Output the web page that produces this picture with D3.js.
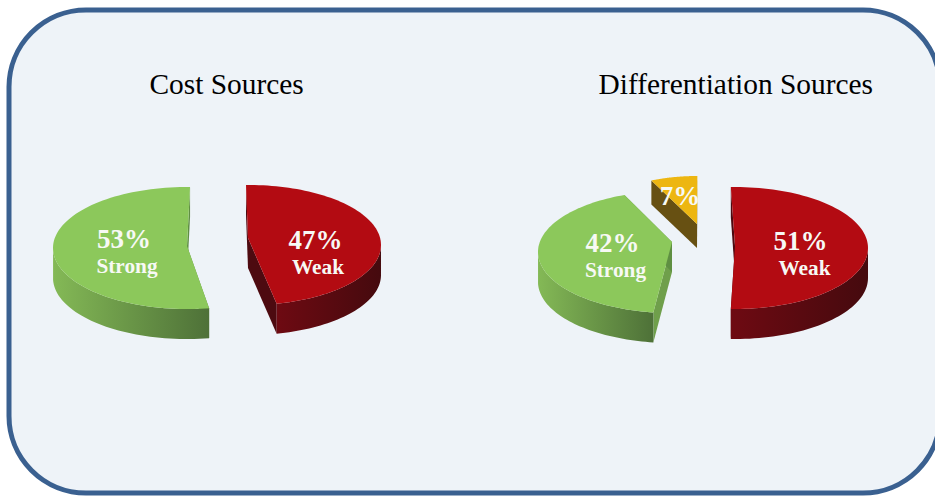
<!DOCTYPE html>
<html><head><meta charset="utf-8">
<script src="https://cdn.jsdelivr.net/npm/d3@7"></script>
<style>html,body{margin:0;padding:0;background:#fff}svg{display:block}</style>
</head><body><svg id="c" width="935" height="498"></svg>
<script>
// Data
const panelTitles = ["Cost Sources", "Differentiation Sources"];
const costCategories = ["Strong", "Weak"];
const costValues = [53, 47];
const diffCategories = ["Strong", "", "Weak"];
const diffValues = [42, 7, 51];

// Layout / style
const deg = Math.PI / 180;
const depth = 30;
const palette = {
  green: {top:"#8cc85b", side:"#6f9f4b", inner:"#5f8f42", wall:["#84b956","#4e7138"]},
  red:   {top:"#b30b12", side:"#4d0a10", inner:"#4d0a10", wall:["#6e0a12","#450a0e"]},
  gold:  {top:"#edb611", side:"#675012", inner:"#675012", wall:["#675012","#675012"]}
};
const svg = d3.select("#c");
const defs = svg.append("defs");

svg.append("rect").attr("x",9).attr("y",10).attr("width",931).attr("height",483)
  .attr("rx",77).attr("ry",77).attr("fill","#eef3f8").attr("stroke","#3a6090").attr("stroke-width",5);

svg.selectAll("text.title").data(panelTitles).join("text").attr("class","title")
  .attr("x",(d,i)=>[149.5,598.5][i]).attr("y",94)
  .attr("font-family","'Liberation Serif',serif").attr("font-size",29.4).attr("fill","#000").text(d=>d);

const pieAngles = (values, start) => d3.pie().sort(null).startAngle(start*deg).endAngle((start+360)*deg)(values);

function slice(id, arc, s, colors, dep) {
  const xS = d3.scaleLinear().domain([0,1]).range([s.cx, s.cx+s.rx]);
  const yS = d3.scaleLinear().domain([0,1]).range([s.cy, s.cy+s.ry]);
  const pt = a => [xS(Math.sin(a)), yS(-Math.cos(a))];
  const line = d3.line().curve(d3.curveLinear);
  const n = 90;
  const g = svg.append("g");
  const rot = (s.rot || 0) * deg;
  const a0 = arc.startAngle + rot, a1 = arc.endAngle + rot;
  const angs = d3.range(n+1).map(i => a0 + (a1-a0)*i/n);
  const outer = angs.map(pt);
  const apex = [s.ax, s.ay];
  const down = p => [p[0], p[1]+dep];

  // radial faces
  [outer[0], outer[n]].forEach((p,i) => {
    g.append("path").attr("d", line([apex,p,down(p),down(apex)])+"Z")
      .attr("fill", s.faceColor && i===s.faceIndex ? s.faceColor : colors.inner);
  });
  // front outer wall
  const front = angs.filter(a => {
    const m = ((a/deg)%360+360)%360;
    return m>=90 && m<=270;
  });
  if (front.length) {
    const pts = front.map(pt);
    const xs = pts.map(p=>p[0]);
    const grad = defs.append("linearGradient").attr("id","w"+id).attr("gradientUnits","userSpaceOnUse")
      .attr("x1",d3.min(xs)).attr("x2",d3.max(xs)).attr("y1",0).attr("y2",0);
    grad.append("stop").attr("offset",0).attr("stop-color",colors.wall[0]);
    grad.append("stop").attr("offset",1).attr("stop-color",colors.wall[1]);
    g.append("path").attr("d", line(pts.concat(pts.slice().reverse().map(down)))+"Z")
      .attr("fill","url(#w"+id+")");
  }
  // top surface
  g.append("path").attr("d", line([apex].concat(outer))+"Z").attr("fill",colors.top);
}

const costArcs = pieAngles(costValues, 170.5);
const diffArcs = pieAngles(diffValues, 187);

slice("a", costArcs[0], {cx:187,cy:248,rx:134,ry:61,ax:187,ay:246}, palette.green, depth);
slice("b", costArcs[1], {cx:249,cy:245,rx:132,ry:60,ax:248,ay:238,rot:-2.6}, palette.red, depth);
slice("c", diffArcs[0], {cx:672,cy:252,rx:134,ry:61,ax:672,ay:242,rot:1,faceColor:"#6f9f4b",faceIndex:0}, palette.green, depth);
slice("d", diffArcs[1], {cx:697,cy:224,rx:108,ry:48,ax:697,ay:224,rot:-3.2}, palette.gold, 24);
slice("e", diffArcs[2], {cx:735,cy:248,rx:133,ry:61,ax:735,ay:246,rot:-5.2}, palette.red, depth);

// labels
const pctLabels = [
  {v:costValues[0], x:124, y:248, s:27},
  {v:costValues[1], x:315.5, y:249, s:27},
  {v:diffValues[0], x:612.5, y:252, s:27},
  {v:diffValues[1], x:680, y:205, s:27},
  {v:diffValues[2], x:800.5, y:250, s:27}
];
const catLabels = [
  {t:costCategories[0], x:127, y:273},
  {t:costCategories[1], x:318, y:274},
  {t:diffCategories[0], x:615.5, y:277},
  {t:diffCategories[2], x:804.5, y:275}
];
const txt = sel => sel.attr("text-anchor","middle").attr("font-family","'Liberation Serif',serif")
  .attr("font-weight","bold").attr("fill","#f7f9f5");
svg.selectAll("text.pct").data(pctLabels).join("text").attr("class","pct").call(txt)
  .attr("x",d=>d.x).attr("y",d=>d.y).attr("font-size",d=>d.s).text(d=>d.v+"%");
svg.selectAll("text.cat").data(catLabels).join("text").attr("class","cat").call(txt)
  .attr("x",d=>d.x).attr("y",d=>d.y).attr("font-size",21.3).text(d=>d.t);
</script></body></html>
